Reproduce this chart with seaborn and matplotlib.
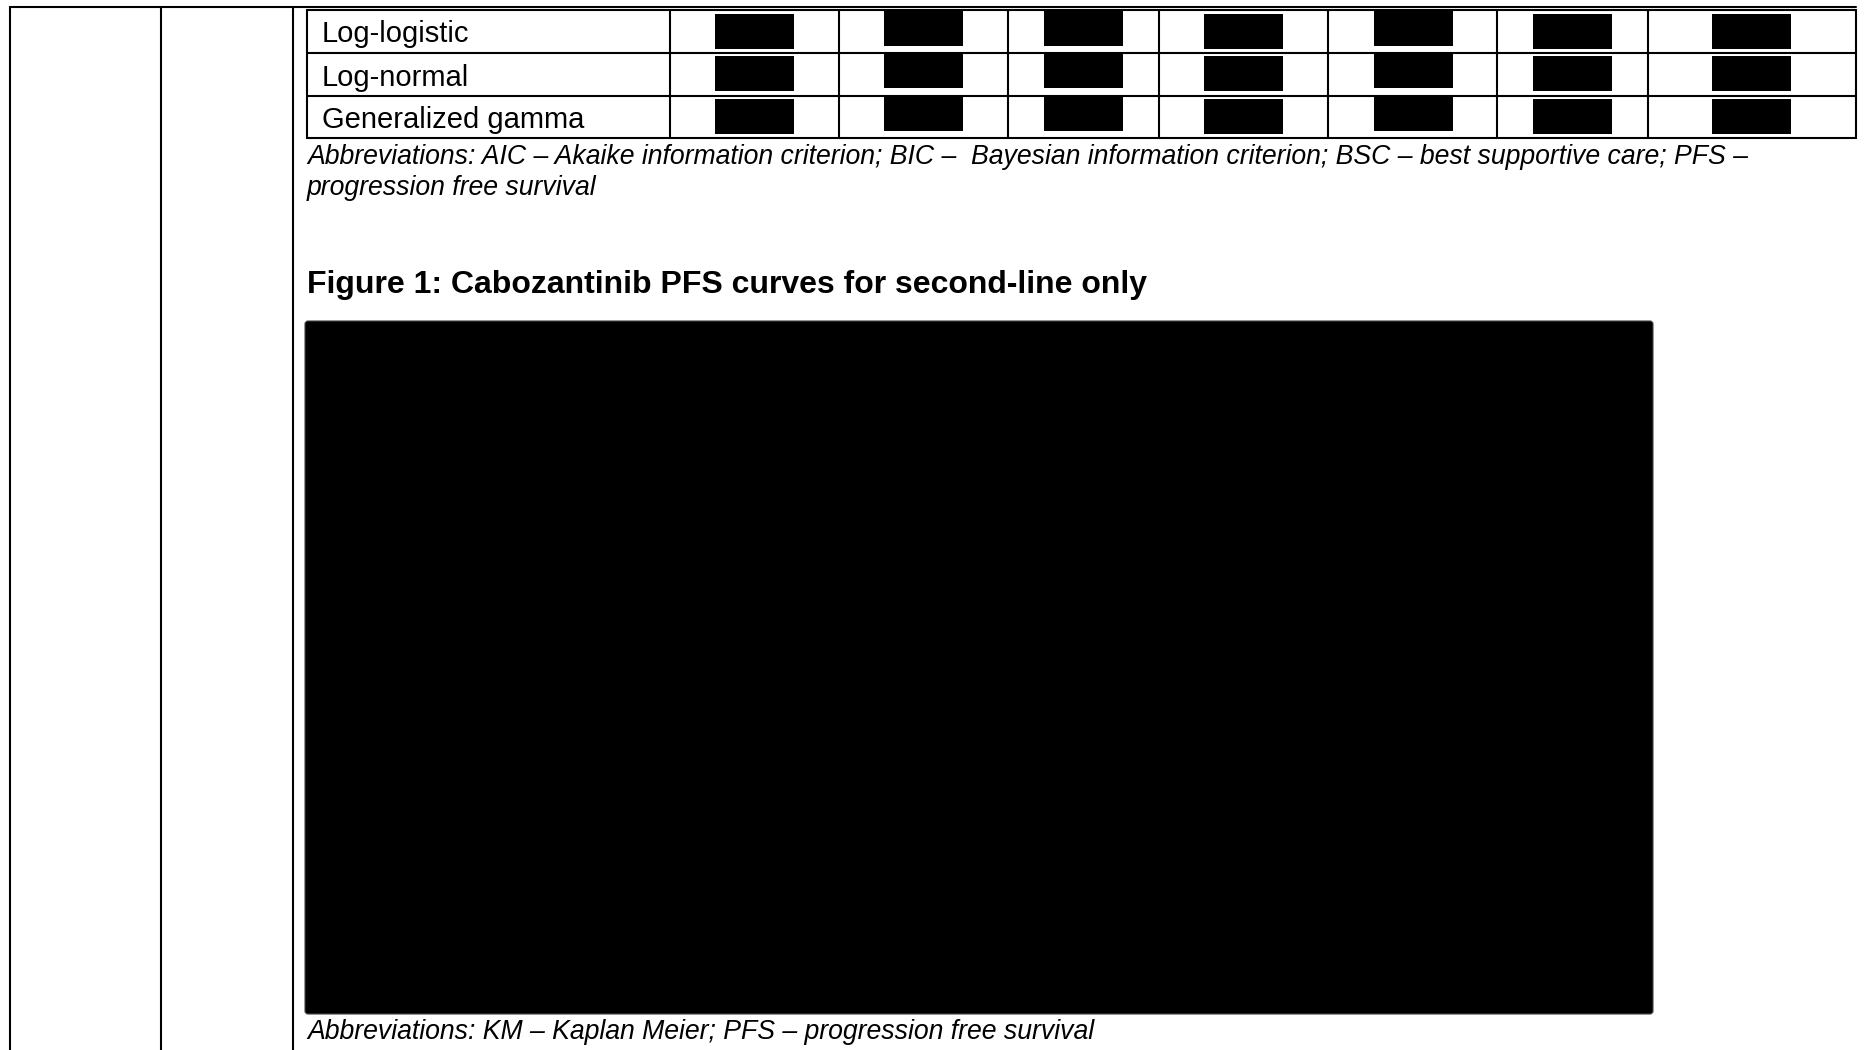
import matplotlib
matplotlib.use('Agg')
import matplotlib.pyplot as plt
from matplotlib.patches import Rectangle, FancyBboxPatch
import seaborn as sns

# Page content
row_labels = ['Log-logistic', 'Log-normal', 'Generalized gamma']
# redaction style per value column: 'A' = inset box, 'B' = box hanging from the row line
redact_style = ['A', 'B', 'B', 'A', 'B', 'A', 'A']
table_note = ['Abbreviations: AIC \u2013 Akaike information criterion; BIC \u2013  Bayesian information '
              'criterion; BSC \u2013 best supportive care; PFS \u2013',
              'progression free survival']
figure_title = 'Figure 1: Cabozantinib PFS curves for second-line only'
figure_note = 'Abbreviations: KM \u2013 Kaplan Meier; PFS \u2013 progression free survival'

sns.set_theme(style='white')
plt.rcParams['font.family'] = ['Liberation Sans', 'DejaVu Sans']
plt.rcParams['text.color'] = 'black'

W, H = 1868, 1050
fig = plt.figure(figsize=(W / 100, H / 100), dpi=100)
ax = fig.add_axes([0, 0, 1, 1])
ax.set_xlim(0, W)
ax.set_ylim(H, 0)
ax.axis('off')

lw = 1.5
# layout (pixels)
outer_x = [10, 161, 293]
col_edges = [307, 670, 839, 1008, 1159, 1328, 1497, 1648, 1856]
row_edges = [10, 52.5, 95.5, 138]
box_left = [715, 884, 1044, 1204, 1374, 1533, 1712]
box_w, box_h = 79, 35

# outer document table
for x in outer_x:
    ax.plot([x, x], [6, H], color='black', lw=lw, solid_capstyle='butt')
ax.plot([outer_x[0], col_edges[-1]], [6.5, 6.5], color='black', lw=lw)

# inner table grid
for y in row_edges:
    ax.plot([col_edges[0], col_edges[-1]], [y, y], color='black', lw=lw)
for x in col_edges:
    ax.plot([x, x], [row_edges[0], row_edges[-1]], color='black', lw=lw)

for i, label in enumerate(row_labels):
    top = row_edges[i]
    ax.text(col_edges[0] + 15, top + 31.5 + (i > 0) * 1.5, label, fontsize=21,
            va='baseline', ha='left', color='black')
    for j, style in enumerate(redact_style):
        y0 = top + 3.5 if style == 'A' else top + 0.5
        ax.add_patch(Rectangle((box_left[j], y0), box_w, box_h, color='black', lw=0))

ax.text(307, 164, table_note[0], fontsize=19.15, style='italic', va='baseline', ha='left')
ax.text(307, 195, table_note[1], fontsize=19.15, style='italic', va='baseline', ha='left')

ax.text(307, 293, figure_title, fontsize=23.05, weight='bold', va='baseline', ha='left')

# redacted figure
ax.add_patch(FancyBboxPatch((305, 321), 1348, 693, boxstyle='round,pad=0,rounding_size=3',
                            facecolor='black', edgecolor='#444444', lw=0.8))

ax.text(307, 1039, figure_note, fontsize=19.15, style='italic', va='baseline', ha='left')

fig.savefig('out.png', dpi=100, facecolor='white')
